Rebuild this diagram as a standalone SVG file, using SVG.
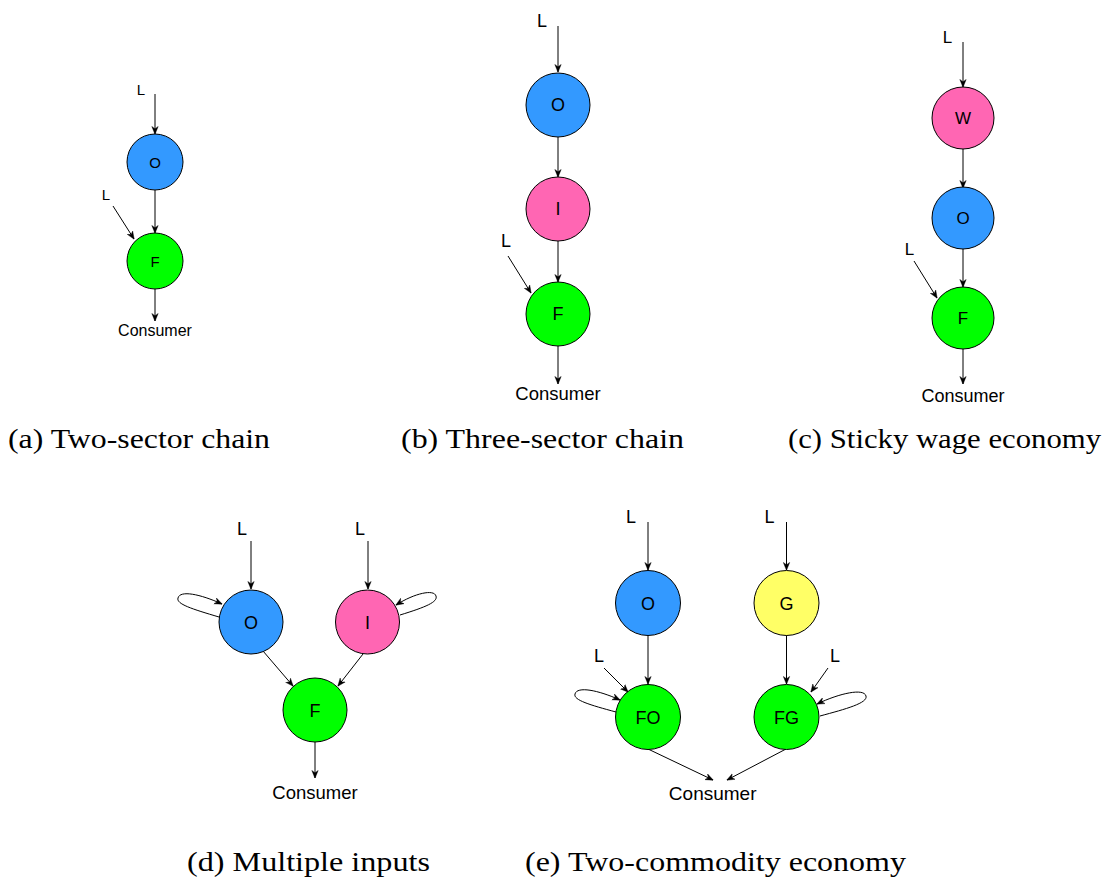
<svg xmlns="http://www.w3.org/2000/svg" width="1105" height="879" viewBox="0 0 1105 879">
<style>
.n{stroke:#000;stroke-width:1}
.b{fill:#3399FF}.p{fill:#FF66B3}.g{fill:#00FF00}.y{fill:#FFFF66}
.t{font-family:"Liberation Sans",Arial,sans-serif;fill:#000;text-anchor:middle}
.e{fill:none;stroke:#000;stroke-width:1;marker-end:url(#arr)}
.c{font-family:"Liberation Serif","DejaVu Serif",serif;font-size:27px;fill:#000}
</style>
<defs>
<marker id="arr" viewBox="0 0 10 10" refX="9.5" refY="5" markerWidth="8" markerHeight="8" markerUnits="userSpaceOnUse" orient="auto">
<path d="M0,1 L10,5 L0,9 L3,5 z" fill="#000" stroke="#000" stroke-width="0.5"/>
</marker>
</defs>
<rect width="1105" height="879" fill="#fff"/>

<!-- Panel a -->
<g id="a-connectors">
<path class="e" d="M155,94 L155,134"/>
<path class="e" d="M113,206 L134,239"/>
<path class="e" d="M155,190 L155,233"/>
<path class="e" d="M155,289 L155,321"/>
</g>
<g id="a-O"><circle class="n b" cx="155" cy="162" r="28"/><text class="t" x="155" y="167.5" font-size="15">O</text></g>
<g id="a-F"><circle class="n g" cx="155" cy="261" r="28"/><text class="t" x="155" y="266.5" font-size="15">F</text></g>
<g id="a-labels">
<text class="t" x="141" y="95" font-size="15">L</text>
<text class="t" x="106" y="200" font-size="15">L</text>
<text class="t" x="155" y="336" font-size="16">Consumer</text>
</g>

<!-- Panel b -->
<g id="b-connectors">
<path class="e" d="M558,26 L558,72"/>
<path class="e" d="M558,137 L558,177"/>
<path class="e" d="M558,241 L558,282"/>
<path class="e" d="M508,256 L531,293"/>
<path class="e" d="M558,346 L558,384"/>
</g>
<g id="b-O"><circle class="n b" cx="558" cy="105" r="32"/><text class="t" x="558" y="111" font-size="18">O</text></g>
<g id="b-I"><circle class="n p" cx="558" cy="209" r="32"/><text class="t" x="558" y="215" font-size="18">I</text></g>
<g id="b-F"><circle class="n g" cx="558" cy="314" r="32"/><text class="t" x="558" y="320" font-size="18">F</text></g>
<g id="b-labels">
<text class="t" x="542" y="27" font-size="18">L</text>
<text class="t" x="506" y="247" font-size="18">L</text>
<text class="t" x="558" y="400" font-size="18.5">Consumer</text>
</g>

<!-- Panel c -->
<g id="c-connectors">
<path class="e" d="M963,42 L963,87"/>
<path class="e" d="M963,149 L963,188"/>
<path class="e" d="M963,249 L963,287"/>
<path class="e" d="M914,261 L937,298"/>
<path class="e" d="M963,349 L963,384"/>
</g>
<g id="c-W"><circle class="n p" cx="963" cy="118" r="31"/><text class="t" x="963" y="124" font-size="17">W</text></g>
<g id="c-O"><circle class="n b" cx="963" cy="218" r="31"/><text class="t" x="963" y="224" font-size="17">O</text></g>
<g id="c-F"><circle class="n g" cx="963" cy="318" r="31"/><text class="t" x="963" y="324" font-size="17">F</text></g>
<g id="c-labels">
<text class="t" x="947.5" y="43" font-size="17">L</text>
<text class="t" x="909.5" y="255" font-size="17">L</text>
<text class="t" x="963" y="402" font-size="18">Consumer</text>
</g>

<!-- Panel d -->
<g id="d-connectors">
<path class="e" d="M251,541 L251,589"/>
<path class="e" d="M368,541 L368,589"/>
<path class="e" d="M219,617 C192,609 176,604 178,598 C180,590 200,594 222,604"/>
<path class="e" d="M400,615 C426,607 438,602 436,596 C434,589 415,593 396,605"/>
<path class="e" d="M263,651 L293,686"/>
<path class="e" d="M363,654 L338,686"/>
<path class="e" d="M315,742 L315,778"/>
</g>
<g id="d-O"><circle class="n b" cx="251" cy="622" r="32"/><text class="t" x="251" y="628.5" font-size="18">O</text></g>
<g id="d-I"><circle class="n p" cx="367.5" cy="622" r="32"/><text class="t" x="367.5" y="628.5" font-size="18">I</text></g>
<g id="d-F"><circle class="n g" cx="315" cy="710" r="32"/><text class="t" x="315" y="716.5" font-size="18">F</text></g>
<g id="d-labels">
<text class="t" x="242" y="535" font-size="18">L</text>
<text class="t" x="360" y="535" font-size="18">L</text>
<text class="t" x="315" y="799" font-size="18.5">Consumer</text>
</g>

<!-- Panel e -->
<g id="e-connectors">
<path class="e" d="M648,522 L648,570"/>
<path class="e" d="M786.5,522 L786.5,570"/>
<path class="e" d="M648,635 L648,684"/>
<path class="e" d="M786.5,635 L786.5,684"/>
<path class="e" d="M604,668 L628,692"/>
<path class="e" d="M828,668 L811,692"/>
<path class="e" d="M616,712 C590,705 573,700 575,694 C577,686 598,690 620,700"/>
<path class="e" d="M820,716 C846,709 868,703 866,696 C864,688 840,693 817,704"/>
<path class="e" d="M648,749 L713,780"/>
<path class="e" d="M786,749 L727,780"/>
</g>
<g id="e-O"><circle class="n b" cx="648" cy="603" r="32.5"/><text class="t" x="648" y="609.5" font-size="18">O</text></g>
<g id="e-G"><circle class="n y" cx="786.5" cy="603" r="32.5"/><text class="t" x="786.5" y="609.5" font-size="18">G</text></g>
<g id="e-FO"><circle class="n g" cx="648" cy="717" r="32.5"/><text class="t" x="648" y="723.5" font-size="18">FO</text></g>
<g id="e-FG"><circle class="n g" cx="786.5" cy="717" r="32.5"/><text class="t" x="786.5" y="723.5" font-size="18">FG</text></g>
<g id="e-labels">
<text class="t" x="631" y="523" font-size="18">L</text>
<text class="t" x="769.5" y="523" font-size="18">L</text>
<text class="t" x="599" y="662" font-size="18">L</text>
<text class="t" x="835" y="662" font-size="18">L</text>
<text class="t" x="712.7" y="800" font-size="19">Consumer</text>
</g>

<!-- Captions -->
<g id="captions">
<text class="c" x="8" y="448" textLength="262" lengthAdjust="spacingAndGlyphs">(a) Two-sector chain</text>
<text class="c" x="401" y="448" textLength="283" lengthAdjust="spacingAndGlyphs">(b) Three-sector chain</text>
<text class="c" x="788" y="448" textLength="313" lengthAdjust="spacingAndGlyphs">(c) Sticky wage economy</text>
<text class="c" x="187" y="871" textLength="243" lengthAdjust="spacingAndGlyphs">(d) Multiple inputs</text>
<text class="c" x="525" y="871" textLength="381" lengthAdjust="spacingAndGlyphs">(e) Two-commodity economy</text>
</g>
</svg>
